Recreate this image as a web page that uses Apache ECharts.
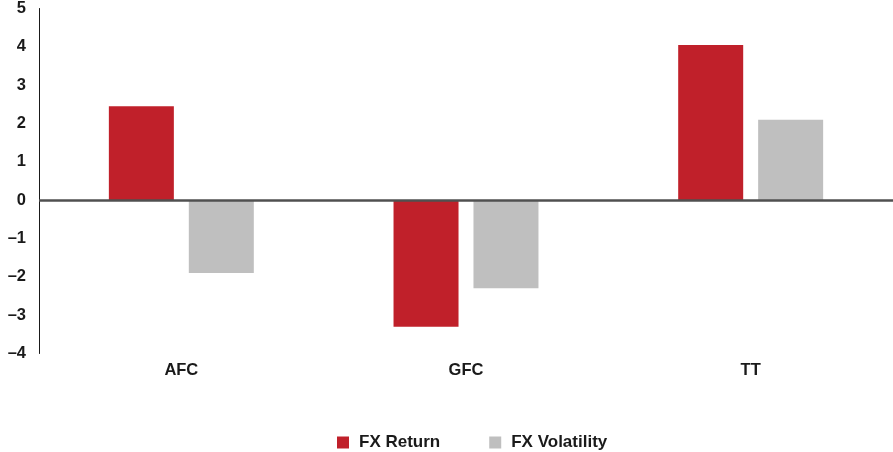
<!DOCTYPE html>
<html>
<head>
<meta charset="utf-8">
<script src="https://cdn.jsdelivr.net/npm/echarts@6/dist/echarts.min.js"></script>
<style>
  html, body { margin: 0; padding: 0; background: #fff; }
  #chart { width: 893px; height: 452px; }
</style>
</head>
<body>
<div id="chart"></div>
<script>
// 数据
const categories = ['AFC', 'GFC', 'TT']
const fxReturn = [2.45, -3.3, 4.05]
const fxVolatility = [-1.9, -2.3, 2.1]

const font = '"Liberation Sans", Arial, sans-serif'

const chart = echarts.init(document.getElementById('chart'))

const option = {
  animation: false,
  textStyle: { fontFamily: font },
  grid: {
    left: 39,
    right: 0,
    top: 7,
    height: 346.5
  },
  legend: {
    left: 332,
    top: 429,
    itemWidth: 12,
    itemHeight: 12,
    itemGap: 49,
    icon: 'rect',
    textStyle: { fontFamily: font, fontSize: 17, fontWeight: 'bold', color: '#1a1a1a', padding: [0, 0, 0, 5] },
    data: ['FX Return', 'FX Volatility']
  },
  xAxis: {
    type: 'category',
    data: categories,
    axisLine: { show: false, onZero: false },
    axisTick: { show: false },
    axisLabel: {
      margin: 8,
      fontFamily: font,
      fontSize: 16.5,
      fontWeight: 'bold',
      color: '#1a1a1a'
    }
  },
  yAxis: {
    type: 'value',
    min: -4,
    max: 5,
    interval: 1,
    splitLine: { show: false },
    axisTick: { show: false },
    axisLine: { show: true, lineStyle: { color: '#1a1a1a', width: 1 } },
    axisLabel: {
      margin: 13,
      fontFamily: font,
      fontSize: 16.5,
      fontWeight: 'bold',
      color: '#1a1a1a',
      formatter: v => String(v).replace('-', '\u2013')
    }
  },
  series: [
    {
      name: 'FX Return',
      type: 'bar',
      data: fxReturn,
      barWidth: 65,
      barGap: '23%',
      itemStyle: { color: '#C0202A' },
      markLine: {
        silent: true,
        symbol: 'none',
        label: { show: false },
        lineStyle: { color: '#505050', width: 2.5, type: 'solid' },
        data: [{ yAxis: 0 }]
      }
    },
    {
      name: 'FX Volatility',
      type: 'bar',
      data: fxVolatility,
      barWidth: 65,
      barGap: '23%',
      itemStyle: { color: '#BFBFBF' }
    }
  ]
}

chart.setOption(option)
</script>
</body>
</html>
